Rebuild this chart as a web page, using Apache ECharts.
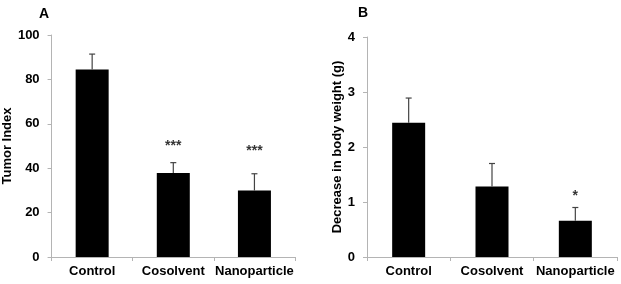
<!DOCTYPE html>
<html>
<head>
<meta charset="utf-8">
<script src="https://cdn.jsdelivr.net/npm/echarts@6/dist/echarts.min.js"></script>
<style>
  html, body { margin: 0; padding: 0; background: #fff; }
  #chart { width: 621px; height: 284px; }
</style>
</head>
<body>
<div id="chart"></div>
<script>
const categories = ["Control", "Cosolvent", "Nanoparticle"]

// panel A: tumor index, mean and upper error
const tumorIndex = [84.5, 37.8, 29.9]
const tumorErr = [6.9, 4.7, 7.6]
const tumorSig = ["", "***", "***"]
const tumorSigAt = [null, 49.8, 47.5]

// panel B: decrease in body weight (g)
const weightLoss = [2.44, 1.28, 0.66]
const weightErr = [0.45, 0.42, 0.24]
const weightSig = ["", "", "*"]
const weightSigAt = [null, null, 1.11]

const FONT = "Liberation Sans, Arial, sans-serif"
const axisGray = "#b4b4b4"

const chart = echarts.init(document.getElementById("chart"), null, { renderer: "canvas" })

// error bar: line from bar top up to mean+err, with a small cap
function errorBar(params, api) {
  const x = api.value(0)
  const top = api.coord([x, api.value(1) + api.value(2)])
  const base = api.coord([x, api.value(1)])
  const cap = 3
  return {
    type: "group",
    children: [
      { type: "line", shape: { x1: base[0], y1: base[1], x2: top[0], y2: top[1] }, style: { stroke: "#444", lineWidth: 1.2 } },
      { type: "line", shape: { x1: top[0] - cap, y1: top[1], x2: top[0] + cap, y2: top[1] }, style: { stroke: "#444", lineWidth: 1.2 } }
    ]
  }
}

function xAxis(gridIndex) {
  return {
    type: "category",
    gridIndex,
    data: categories,
    axisLine: { lineStyle: { color: axisGray, width: 1 } },
    axisTick: { show: true, length: 4, lineStyle: { color: axisGray } },
    axisLabel: { color: "#000", fontFamily: FONT, fontWeight: "bold", fontSize: 13, margin: 8, interval: 0 }
  }
}

function yAxis(gridIndex, max, interval, name, nameGap) {
  return {
    type: "value",
    gridIndex,
    min: 0,
    max,
    interval,
    name,
    nameLocation: "middle",
    nameGap,
    nameTextStyle: { color: "#000", fontFamily: FONT, fontWeight: "bold", fontSize: 13 },
    splitLine: { show: false },
    axisLine: { show: true, lineStyle: { color: axisGray, width: 1 } },
    axisTick: { show: true, length: 4, lineStyle: { color: axisGray } },
    axisLabel: { color: "#000", fontFamily: FONT, fontWeight: "bold", fontSize: 13, margin: 12 }
  }
}

const option = {
  animation: false,
  backgroundColor: "#fff",
  title: [
    { text: "A", left: 34, top: 2, textStyle: { fontFamily: FONT, fontWeight: "bold", fontSize: 14, color: "#000" } },
    { text: "B", left: 353, top: 1, textStyle: { fontFamily: FONT, fontWeight: "bold", fontSize: 14, color: "#000" } }
  ],
  grid: [
    { left: 45, top: 35, width: 250, height: 222 },
    { left: 367, top: 37, width: 250, height: 220 }
  ],
  xAxis: [xAxis(0), xAxis(1)],
  yAxis: [
    yAxis(0, 100, 20, "Tumor Index", 31),
    yAxis(1, 4, 1, "Decrease in body weight (g)", 21)
  ],
  series: [
    {
      type: "bar", xAxisIndex: 0, yAxisIndex: 0, data: tumorIndex,
      barWidth: 33, itemStyle: { color: "#000" }
    },
    {
      type: "custom", xAxisIndex: 0, yAxisIndex: 0, renderItem: errorBar,
      data: tumorIndex.map((v, i) => [i, v, tumorErr[i]]), z: 3
    },
    {
      type: "scatter", xAxisIndex: 0, yAxisIndex: 0, symbolSize: 0,
      data: tumorSigAt.map((v, i) => [i, v]),
      label: { show: true, position: "inside", formatter: p => tumorSig[p.dataIndex], color: "#000", fontFamily: FONT, fontWeight: "bold", fontSize: 14 }
    },
    {
      type: "bar", xAxisIndex: 1, yAxisIndex: 1, data: weightLoss,
      barWidth: 33, itemStyle: { color: "#000" }
    },
    {
      type: "custom", xAxisIndex: 1, yAxisIndex: 1, renderItem: errorBar,
      data: weightLoss.map((v, i) => [i, v, weightErr[i]]), z: 3
    },
    {
      type: "scatter", xAxisIndex: 1, yAxisIndex: 1, symbolSize: 0,
      data: weightSigAt.map((v, i) => [i, v]),
      label: { show: true, position: "inside", formatter: p => weightSig[p.dataIndex], color: "#000", fontFamily: FONT, fontWeight: "bold", fontSize: 14 }
    }
  ]
}

chart.setOption(option)
</script>
</body>
</html>
